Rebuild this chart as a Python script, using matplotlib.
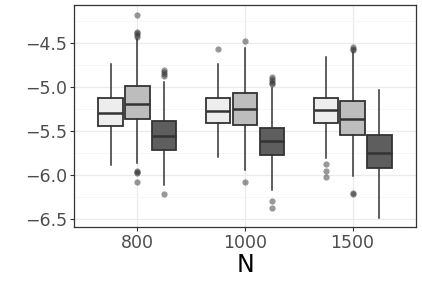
import matplotlib.pyplot as plt

groups = ['800', '1000', '1500']
series_fill = ['#EDEDED', '#BDBDBD', '#5E5E5E']

# per-series box stats for the three N groups
q1 = [[-5.44, -5.41, -5.41], [-5.36, -5.43, -5.55], [-5.72, -5.77, -5.92]]
med = [[-5.29, -5.27, -5.26], [-5.19, -5.245, -5.36], [-5.56, -5.61, -5.75]]
q3 = [[-5.13, -5.13, -5.12], [-4.985, -5.065, -5.16], [-5.39, -5.47, -5.55]]
whislo = [[-5.89, -5.80, -5.81], [-5.86, -5.94, -6.01], [-6.11, -6.17, -6.485]]
whishi = [[-4.74, -4.74, -4.655], [-4.45, -4.56, -4.60], [-4.94, -5.01, -5.03]]
fliers = [
    [[], [-4.57], [-5.87, -5.95, -6.02]],
    [[-4.18, -4.38, -4.39, -4.41, -4.43, -5.95, -5.97, -5.98, -6.08],
     [-4.48, -6.08],
     [-4.545, -4.565, -4.58, -6.20, -6.22]],
    [[-4.81, -4.83, -4.85, -4.88, -6.22],
     [-4.89, -4.91, -4.93, -4.95, -4.97, -6.30, -6.37],
     []],
]

fig = plt.figure(figsize=(4.22, 2.82), dpi=100)
ax = fig.add_axes([0.1754, 0.195, 0.8104, 0.7873])

offsets = [-0.25, 0, 0.25]
for s in range(3):
    stats = []
    for g in range(3):
        stats.append(dict(q1=q1[s][g], med=med[s][g], q3=q3[s][g],
                          whislo=whislo[s][g], whishi=whishi[s][g],
                          fliers=fliers[s][g]))
    pos = [g + 1 + offsets[s] for g in range(3)]
    ax.bxp(stats, positions=pos, widths=0.225, patch_artist=True,
           showcaps=False, zorder=3,
           boxprops=dict(facecolor=series_fill[s], edgecolor='#333333', linewidth=1.3),
           medianprops=dict(color='#333333', linewidth=1.8),
           whiskerprops=dict(color='#333333', linewidth=1.1),
           flierprops=dict(marker='o', markersize=4.5, markerfacecolor='#333333',
                           markeredgecolor='none', alpha=0.5))

ax.set_xlim(0.41, 3.59)
ax.set_ylim(-6.591, -4.068)
ax.set_xticks([1, 2, 3])
ax.set_xticklabels(groups)
ax.set_yticks([-4.5, -5.0, -5.5, -6.0, -6.5])
ax.set_yticklabels(['\u22124.5', '\u22125.0', '\u22125.5', '\u22126.0', '\u22126.5'])
ax.set_yticks([-4.25, -4.75, -5.25, -5.75, -6.25], minor=True)

ax.grid(True, which='major', color='#EBEBEB', linewidth=0.9, zorder=0)
ax.grid(True, which='minor', axis='y', color='#F5F5F5', linewidth=0.6, zorder=0)
ax.set_axisbelow(True)
ax.tick_params(axis='both', which='major', labelsize=12.5, labelcolor='#4D4D4D',
               color='#333333', length=3, width=0.8, pad=2)
ax.tick_params(axis='both', which='minor', length=0)
for sp in ax.spines.values():
    sp.set_color('#333333')
    sp.set_linewidth(0.9)

ax.set_xlabel('N', fontsize=17, labelpad=1)

fig.savefig('out.png', dpi=100)
